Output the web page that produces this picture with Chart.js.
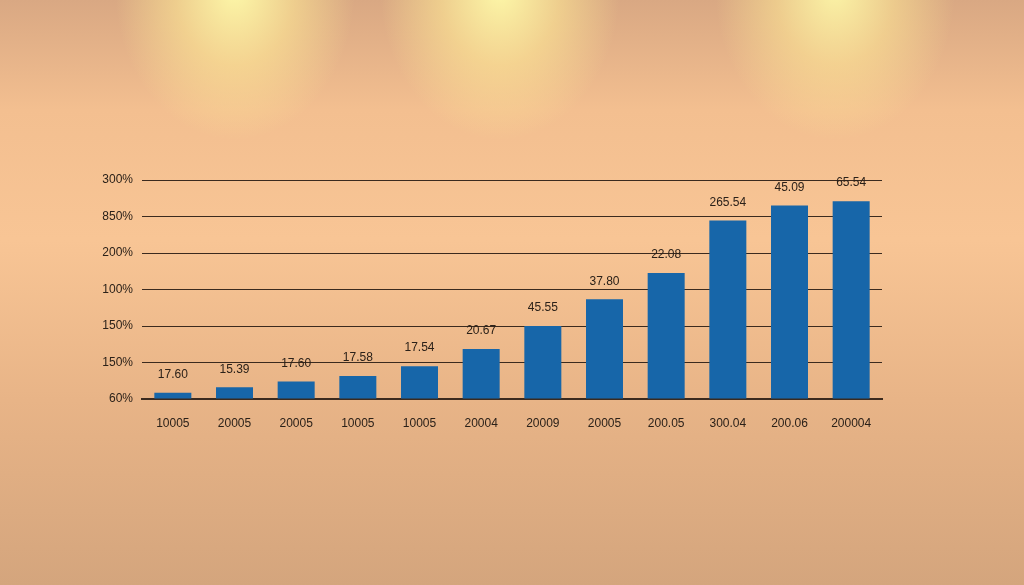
<!DOCTYPE html>
<html>
<head>
<meta charset="utf-8">
<script src="https://cdn.jsdelivr.net/npm/chart.js@4"></script>
<style>
  html, body { margin: 0; padding: 0; width: 1024px; height: 585px; overflow: hidden; }
  body {
    background:
      radial-gradient(ellipse 120px 150px at 235px -10px, rgba(255,252,170,0.95), rgba(255,236,150,0.55) 50%, rgba(255,220,140,0) 100%),
      radial-gradient(ellipse 120px 150px at 500px -10px, rgba(255,252,170,0.95), rgba(255,236,150,0.55) 50%, rgba(255,220,140,0) 100%),
      radial-gradient(ellipse 120px 150px at 835px -10px, rgba(255,252,170,0.9), rgba(255,236,150,0.5) 50%, rgba(255,220,140,0) 100%),
      linear-gradient(to bottom, #d9a883 0px, #f3bf90 110px, #f8c595 240px, #e8b487 400px, #d4a57d 585px);
  }
  .chart-box { position: absolute; left: 0; top: 0; width: 1024px; height: 585px; }
</style>
</head>
<body>
<div class="chart-box"><canvas id="chart"></canvas></div>
<script>
const categories = ["10005", "20005", "20005", "10005", "10005", "20004", "20009", "20005", "200.05", "300.04", "200.06", "200004"];
const barValues = [0.17, 0.32, 0.48, 0.63, 0.9, 1.37, 2.0, 2.73, 3.45, 4.89, 5.3, 5.42];
const valueLabels = ["17.60", "15.39", "17.60", "17.58", "17.54", "20.67", "45.55", "37.80", "22.08", "265.54", "45.09", "65.54"];
const yTickLabels = ["60%", "150%", "150%", "100%", "200%", "850%", "300%"];

const textColor = "#2b2119";
const lineColor = "#3b2a1e";

// labels above bars
const valueLabelPlugin = {
  id: "valueLabels",
  afterDatasetsDraw(chart) {
    const ctx = chart.ctx;
    const meta = chart.getDatasetMeta(0);
    ctx.save();
    ctx.fillStyle = textColor;
    ctx.font = "12px 'Liberation Sans', Arial, sans-serif";
    ctx.textAlign = "center";
    ctx.textBaseline = "middle";
    meta.data.forEach((bar, i) => {
      ctx.fillText(valueLabels[i], bar.x, bar.y - 18);
    });
    ctx.restore();
  }
};

new Chart(document.getElementById("chart"), {
  type: "bar",
  data: {
    labels: categories,
    datasets: [{
      data: barValues,
      backgroundColor: "#1766a9",
      borderWidth: 0,
      barPercentage: 0.6,
      categoryPercentage: 1.0
    }]
  },
  options: {
    responsive: true,
    maintainAspectRatio: false,
    animation: false,
    layout: { padding: { left: 0, right: 142, top: 180, bottom: 0 } },
    plugins: {
      legend: { display: false },
      tooltip: { enabled: false }
    },
    scales: {
      x: {
        grid: { display: false },
        border: { display: true, color: lineColor, width: 2 },
        ticks: {
          color: textColor,
          font: { family: "'Liberation Sans', Arial, sans-serif", size: 12 },
          padding: 9,
          maxRotation: 0
        },
        afterFit(scale) { scale.height = 186; }
      },
      y: {
        min: 0,
        max: 6,
        grid: { color: lineColor, lineWidth: 1, drawTicks: false },
        border: { display: false },
        ticks: {
          stepSize: 1,
          color: textColor,
          font: { family: "'Liberation Sans', Arial, sans-serif", size: 12 },
          padding: 9,
          callback: (v) => yTickLabels[v]
        },
        afterFit(scale) { scale.width = 142; }
      }
    }
  },
  plugins: [valueLabelPlugin]
});
</script>
</body>
</html>
